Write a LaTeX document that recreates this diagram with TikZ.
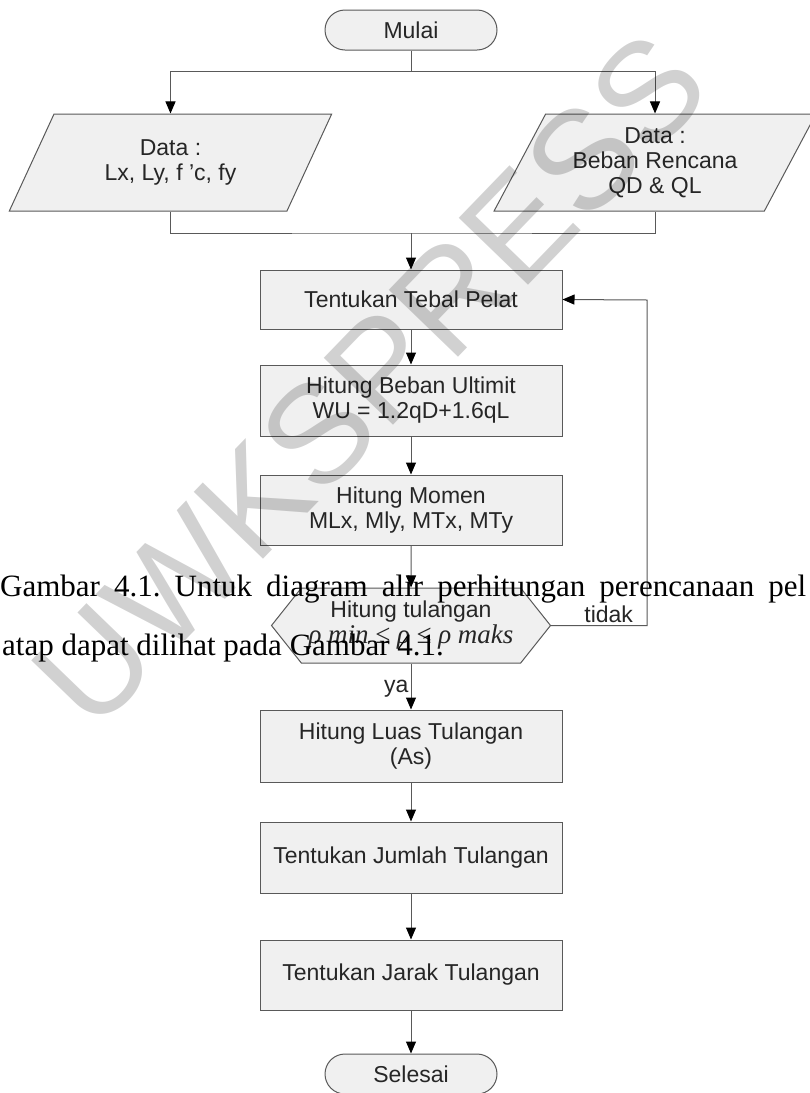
\documentclass[tikz,border=0pt]{standalone}
\usepackage{fontspec}
\setmainfont{Liberation Sans}
\newfontfamily\hurufserif{Liberation Serif}
\usetikzlibrary{shapes.geometric, shapes.misc, shapes.symbols, arrows.meta}
\frenchspacing

\tikzset{
    proses/.style={rectangle, draw=black!65, line width=1pt, fill=black!6, text=black!85,
        minimum width=302pt, align=center, inner sep=0pt, font=\fontsize{23}{25}\selectfont},
    terminal/.style={rounded rectangle, draw=black!65, line width=1pt, fill=black!6, text=black!85,
        minimum width=172pt, minimum height=40pt, inner sep=0pt, font=\fontsize{23}{25}\selectfont},
    masukan/.style={trapezium, trapezium left angle=61, trapezium right angle=119, trapezium stretches=true,
        draw=black!65, line width=1pt, fill=black!6, text=black!85, minimum width=323pt, minimum height=97pt,
        align=center, inner sep=0pt, font=\fontsize{23}{25}\selectfont},
    keputusan/.style={signal, signal to=east and west, signal pointer angle=103,
        draw=black!65, line width=1pt, fill=black!6, text=black!85, minimum width=279pt, minimum height=75pt,
        align=center, inner sep=0pt, font=\fontsize{23}{25}\selectfont},
    garis/.style={draw=black!65, line width=1pt},
    keterangan/.style={text=black!85, inner sep=2pt, font=\fontsize{23}{25}\selectfont},
    teksbadan/.style={inner sep=0pt, text=black, font=\hurufserif\fontsize{31}{37}\selectfont},
    tandaair/.style={inner sep=0pt, text=black, text opacity=0.18, font=\fontsize{140}{140}\selectfont},
}

\begin{document}
\begin{tikzpicture}[x=1pt, y=-1pt, >={Triangle[width=10pt, length=12pt, color=black]}]
    \fill[white] (0,0) rectangle (810,1093);
    \path[use as bounding box, clip] (0,0) rectangle (810,1093);

    % Terminal mulai dan data masukan
    \node[terminal] (mulai) at (411,30) {Mulai};
    \node[masukan] (datalx) at (170.5,162.5) {Data :\\Lx, Ly, f ’c, fy};
    \node[masukan] (databeban) at (655,162.5) {Data :\\Beban Rencana\\QD \& QL};

    % Langkah perhitungan
    \node[proses, minimum height=59pt] (tebal) at (411,299.5) {Tentukan Tebal Pelat};
    \node[proses, minimum height=71pt] (beban) at (411,400.5) {Hitung Beban Ultimit\\WU = 1.2qD+1.6qL};
    \node[proses, minimum height=70pt] (momen) at (411,510) {Hitung Momen\\MLx, Mly, MTx, MTy};
    \node[keputusan] (cek) at (411,625.5) {Hitung tulangan\\[1pt]{\hurufserif\itshape\fontsize{27}{27}\selectfont ρ min ≤ ρ ≤ ρ maks}};
    \node[proses, minimum height=72pt] (luas) at (411,746) {Hitung Luas Tulangan\\(As)};
    \node[proses, minimum height=71pt] (jumlah) at (411,857.5) {Tentukan Jumlah Tulangan};
    \node[proses, minimum height=70pt] (jarak) at (411,975) {Tentukan Jarak Tulangan};
    \node[terminal] (selesai) at (411,1074) {Selesai};

    % Percabangan dan penggabungan
    \coordinate (cabang) at (411,71);
    \coordinate (gabung) at (411,233);
    \draw[garis] (mulai) -- (cabang);
    \draw[garis, ->] (cabang) -| (datalx.north);
    \draw[garis, ->] (cabang) -| (databeban.north);
    \draw[garis] (datalx.south) |- (gabung) -| (databeban.south);
    \draw[garis, ->] (gabung) -- (tebal);

    % Alur utama
    \draw[garis, ->] (tebal) -- (beban);
    \draw[garis, ->] (beban) -- (momen);
    \draw[garis, ->] (momen) -- (cek);
    \draw[garis, ->] (cek) -- node[keterangan, left, pos=0.55] {ya} (luas);
    \draw[garis, ->] (luas) -- (jumlah);
    \draw[garis, ->] (jumlah) -- (jarak);
    \draw[garis, ->] (jarak) -- (selesai);

    % Kembali ke tebal pelat
    \coordinate (balik) at (647,300);
    \draw[garis, ->] (cek.east) -| node[keterangan, above, pos=0.3] {tidak} (balik) -- (tebal.east);

    % Tanda air dan teks halaman
    \node[tandaair, rotate=46] (wm) at (370,380) {UWKSPRESS};
    \node[teksbadan, anchor=base west] (baris1) at (0,596) {\makebox[806pt][s]{Gambar 4.1. Untuk diagram alir perhitungan perencanaan pel}};
    \node[teksbadan, anchor=base west] (baris2) at (2,655) {atap dapat dilihat pada Gambar 4.1.};
\end{tikzpicture}
\end{document}
